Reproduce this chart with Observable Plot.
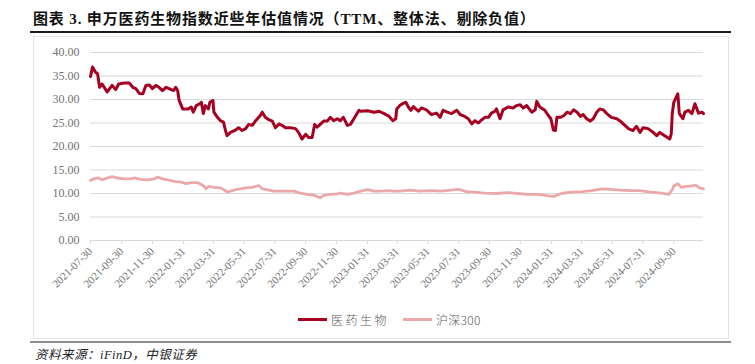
<!DOCTYPE html>
<html>
<head>
<meta charset="utf-8">
<script src="https://cdn.jsdelivr.net/npm/d3@7"></script>
<script src="https://cdn.jsdelivr.net/npm/@observablehq/plot@0.6"></script>
<style>
  body { margin: 0; background: #fff; }
  #wrap { position: relative; width: 755px; height: 364px; background: #fff; overflow: hidden; }
  #title { position: absolute; left: 33px; top: 7px; font-family: "Liberation Serif", "Noto Sans CJK SC", serif; font-weight: 700; font-size: 15px; color: #111; white-space: nowrap; letter-spacing: 0.85px; }
  #rule1 { position: absolute; left: 30px; top: 31px; width: 701px; height: 1.5px; background: #1a1a1a; }
  #box { position: absolute; left: 33px; top: 36px; width: 694px; height: 301px; border: 1px solid #e3e3e3; }
  #chart { position: absolute; left: 33px; top: 37px; }
  #legend { position: absolute; left: 298px; top: 310px; height: 18px; display: flex; align-items: center; font-family: "Noto Sans CJK SC", sans-serif; font-weight: 300; font-size: 12px; color: #595959; }
  .sw { display: inline-block; width: 29px; height: 3px; margin-right: 4px; }
  #rule2 { position: absolute; left: 30px; top: 341px; width: 701px; height: 2px; background: #8c8c8c; }
  #caption { position: absolute; left: 35px; top: 344px; font-family: "Liberation Serif", "Noto Sans CJK SC", serif; font-style: italic; font-size: 12.5px; color: #222; letter-spacing: 0.5px; }
</style>
</head>
<body>
<div id="wrap">
  <div id="title">图表 3. 申万医药生物指数近些年估值情况（TTM、整体法、剔除负值）</div>
  <div id="rule1"></div>
  <div id="box"></div>
  <div id="chart"></div>
  <div id="legend"></div>
  <div id="rule2"></div>
  <div id="caption">资料来源：iFinD，中银证券</div>
</div>
<script>
// ---- data ----
const seriesNames = ["医药生物", "沪深300"];
const seriesColors = ["#a50021", "#eaa8a8"];

const pharmaPE = [
["2021-07-30",34.9],["2021-08-03",36.9],["2021-08-09",35.8],["2021-08-13",35.5],["2021-08-17",32.6],["2021-08-22",33.3],["2021-08-25",32.8],["2021-09-01",31.6],["2021-09-06",32.3],["2021-09-11",33.0],["2021-09-18",32.1],["2021-09-24",33.3],["2021-10-05",33.5],["2021-10-15",33.5],["2021-10-22",32.6],["2021-10-28",32.3],["2021-11-04",31.3],["2021-11-11",31.2],["2021-11-17",33.0],["2021-11-24",33.1],["2021-11-30",32.3],["2021-12-07",33.0],["2021-12-13",32.6],["2021-12-20",31.9],["2021-12-27",32.6],["2022-01-02",32.3],["2022-01-11",31.9],["2022-01-15",32.6],["2022-01-19",31.9],["2022-01-22",29.8],["2022-01-29",28.0],["2022-02-09",28.0],["2022-02-15",28.4],["2022-02-19",27.3],["2022-02-25",28.7],["2022-03-04",29.1],["2022-03-07",29.4],["2022-03-11",27.0],["2022-03-15",28.7],["2022-03-21",28.0],["2022-03-24",29.4],["2022-03-30",29.8],["2022-04-01",27.3],["2022-04-08",26.2],["2022-04-14",25.5],["2022-04-20",25.2],["2022-04-24",23.4],["2022-04-27",22.3],["2022-05-04",23.0],["2022-05-14",23.5],["2022-05-20",24.0],["2022-05-27",23.4],["2022-06-03",23.8],["2022-06-09",24.7],["2022-06-16",24.5],["2022-06-23",25.5],["2022-06-29",26.2],["2022-07-02",26.6],["2022-07-06",27.3],["2022-07-12",26.2],["2022-07-19",25.7],["2022-07-26",25.4],["2022-08-01",24.0],["2022-08-08",24.8],["2022-08-14",24.5],["2022-08-21",24.0],["2022-08-31",24.0],["2022-09-10",23.8],["2022-09-16",23.0],["2022-09-23",21.6],["2022-09-30",22.6],["2022-10-06",21.9],["2022-10-13",21.9],["2022-10-18",24.7],["2022-10-23",24.1],["2022-10-29",24.7],["2022-11-05",25.4],["2022-11-12",25.4],["2022-11-18",26.2],["2022-11-25",25.5],["2022-12-02",25.9],["2022-12-08",25.5],["2022-12-14",26.2],["2022-12-22",24.5],["2022-12-28",24.7],["2023-01-04",25.9],["2023-01-14",27.7],["2023-01-17",27.5],["2023-01-31",27.6],["2023-02-13",27.3],["2023-02-23",27.5],["2023-03-05",27.0],["2023-03-15",26.4],["2023-03-22",25.5],["2023-03-28",25.9],["2023-03-30",28.0],["2023-04-05",28.7],["2023-04-12",29.2],["2023-04-17",29.4],["2023-04-22",28.4],["2023-04-27",27.7],["2023-05-02",28.5],["2023-05-12",27.5],["2023-05-18",28.2],["2023-05-28",27.8],["2023-06-07",26.8],["2023-06-17",27.1],["2023-06-24",26.2],["2023-06-30",27.7],["2023-07-08",27.3],["2023-07-17",27.0],["2023-07-27",27.7],["2023-08-03",26.8],["2023-08-12",26.4],["2023-08-19",25.9],["2023-08-26",24.8],["2023-09-01",25.5],["2023-09-08",25.0],["2023-09-15",25.7],["2023-09-21",26.2],["2023-09-28",26.2],["2023-10-04",27.1],["2023-10-11",27.5],["2023-10-14",28.0],["2023-10-21",25.9],["2023-10-27",27.8],["2023-11-06",28.4],["2023-11-16",28.2],["2023-11-23",28.7],["2023-11-30",28.9],["2023-12-06",28.2],["2023-12-13",28.7],["2023-12-23",27.3],["2023-12-30",27.8],["2024-01-02",29.6],["2024-01-08",28.4],["2024-01-18",27.7],["2024-01-25",26.6],["2024-01-30",25.9],["2024-02-04",23.5],["2024-02-08",23.4],["2024-02-11",26.2],["2024-02-18",26.2],["2024-02-25",26.6],["2024-03-02",27.3],["2024-03-09",27.0],["2024-03-15",27.8],["2024-03-22",27.3],["2024-03-29",26.4],["2024-04-03",26.8],["2024-04-10",25.9],["2024-04-17",25.4],["2024-04-23",25.9],["2024-04-30",27.3],["2024-05-06",28.0],["2024-05-13",27.8],["2024-05-20",27.0],["2024-05-29",26.2],["2024-06-09",25.9],["2024-06-18",25.2],["2024-06-25",24.5],["2024-07-02",23.8],["2024-07-11",23.4],["2024-07-18",24.3],["2024-07-25",23.0],["2024-07-31",24.0],["2024-08-10",23.8],["2024-08-20",23.0],["2024-08-27",22.3],["2024-09-02",23.0],["2024-09-12",22.3],["2024-09-22",21.6],["2024-09-25",22.7],["2024-09-27",27.0],["2024-09-30",29.4],["2024-10-08",31.2],["2024-10-11",27.0],["2024-10-18",25.9],["2024-10-22",27.3],["2024-10-29",27.7],["2024-11-05",27.0],["2024-11-11",29.1],["2024-11-18",27.1],["2024-11-25",27.3],["2024-11-28",27.0]
];

const hs300PE = [
["2021-07-30",12.8],["2021-08-05",13.1],["2021-08-15",13.3],["2021-08-22",12.9],["2021-09-01",13.3],["2021-09-11",13.6],["2021-09-21",13.3],["2021-10-05",13.1],["2021-10-18",13.1],["2021-10-25",13.3],["2021-11-07",13.0],["2021-11-20",12.9],["2021-12-04",13.1],["2021-12-10",13.5],["2021-12-20",13.1],["2021-12-30",12.9],["2022-01-13",12.6],["2022-01-26",12.4],["2022-02-05",12.1],["2022-02-15",12.3],["2022-02-28",12.3],["2022-03-07",11.9],["2022-03-13",11.5],["2022-03-16",11.0],["2022-03-21",11.5],["2022-04-01",11.3],["2022-04-14",11.2],["2022-04-24",10.6],["2022-04-27",10.3],["2022-05-04",10.5],["2022-05-14",10.8],["2022-05-24",11.0],["2022-06-03",11.2],["2022-06-16",11.3],["2022-06-29",11.7],["2022-07-06",11.0],["2022-07-15",10.8],["2022-07-29",10.5],["2022-08-11",10.5],["2022-08-24",10.5],["2022-09-07",10.5],["2022-09-20",10.1],["2022-10-03",9.8],["2022-10-17",9.6],["2022-10-29",9.1],["2022-11-05",9.6],["2022-11-18",9.8],["2022-12-02",9.9],["2022-12-08",10.1],["2022-12-22",9.8],["2023-01-04",10.1],["2023-01-17",10.5],["2023-01-31",10.8],["2023-02-13",10.5],["2023-02-26",10.5],["2023-03-12",10.6],["2023-03-24",10.5],["2023-04-05",10.5],["2023-04-25",10.7],["2023-05-15",10.5],["2023-06-05",10.6],["2023-06-25",10.5],["2023-07-15",10.7],["2023-07-31",10.9],["2023-08-15",10.4],["2023-09-01",10.3],["2023-09-20",10.1],["2023-10-15",10.0],["2023-11-05",10.2],["2023-11-25",10.0],["2023-12-15",9.8],["2024-01-05",9.8],["2024-01-25",9.5],["2024-02-05",9.4],["2024-02-20",10.0],["2024-03-10",10.3],["2024-04-01",10.4],["2024-04-20",10.6],["2024-05-10",11.0],["2024-05-25",10.9],["2024-06-15",10.7],["2024-07-05",10.6],["2024-07-25",10.6],["2024-08-15",10.3],["2024-09-05",10.1],["2024-09-20",9.8],["2024-09-27",10.8],["2024-09-30",11.6],["2024-10-08",12.1],["2024-10-15",11.3],["2024-10-25",11.5],["2024-11-05",11.6],["2024-11-12",11.8],["2024-11-20",11.2],["2024-11-28",11.0]
];

const xTickLabels = ["2021-07-30","2021-09-30","2021-11-30","2022-01-31","2022-03-31","2022-05-31","2022-07-31","2022-09-30","2022-11-30","2023-01-31","2023-03-31","2023-05-31","2023-07-31","2023-09-30","2023-11-30","2024-01-31","2024-03-31","2024-05-31","2024-07-31","2024-09-30"];
const yTicks = [0, 5, 10, 15, 20, 25, 30, 35, 40];
const xDomain = ["2021-07-30", "2024-11-28"];

// ---- build ----
const parse = d3.utcParse("%Y-%m-%d");
const toRows = (arr) => arr.map(([d, v]) => ({date: parse(d), value: v}));
const pharma = toRows(pharmaPE);
const hs300 = toRows(hs300PE);
const xTicks = xTickLabels.map(parse);
const fmt = d3.utcFormat("%Y-%m-%d");

const chart = Plot.plot({
  width: 695,
  height: 268,
  marginLeft: 57,
  marginRight: 25,
  marginTop: 15,
  marginBottom: 65,
  style: {fontFamily: "'Liberation Serif', 'Times New Roman', serif", fontSize: "12px", background: "transparent", color: "#595959"},
  x: {type: "utc", domain: xDomain.map(parse)},
  y: {domain: [0, 40]},
  marks: [
    Plot.gridY(yTicks, {stroke: "#d9d9d9", strokeOpacity: 1, strokeWidth: 1}),
    Plot.axisY(yTicks, {tickSize: 0, tickPadding: 11, tickFormat: d => d.toFixed(2), fill: "#737373", fontSize: 12, label: null}),
    Plot.ruleY([0], {stroke: "#d9d9d9", strokeWidth: 1}),
    Plot.axisX(xTicks, {tickSize: 4, tickPadding: 5, tickRotate: -45, tickFormat: fmt, stroke: "#d9d9d9", fill: "#737373", fontSize: 11, label: null}),
    Plot.line(hs300, {x: "date", y: "value", stroke: seriesColors[1], strokeWidth: 2.8, curve: "linear"}),
    Plot.line(pharma, {x: "date", y: "value", stroke: seriesColors[0], strokeWidth: 3, curve: "linear"})
  ]
});
document.getElementById("chart").appendChild(chart);

// legend
const legend = document.getElementById("legend");
seriesNames.forEach((name, i) => {
  const sw = document.createElement("span");
  sw.className = "sw";
  sw.style.background = seriesColors[i];
  const t = document.createElement("span");
  t.textContent = name;
  t.style.letterSpacing = i === 0 ? "2.5px" : "0.3px";
  t.style.marginRight = i === 0 ? "14px" : "0";
  legend.appendChild(sw);
  legend.appendChild(t);
});
</script>
</body>
</html>
